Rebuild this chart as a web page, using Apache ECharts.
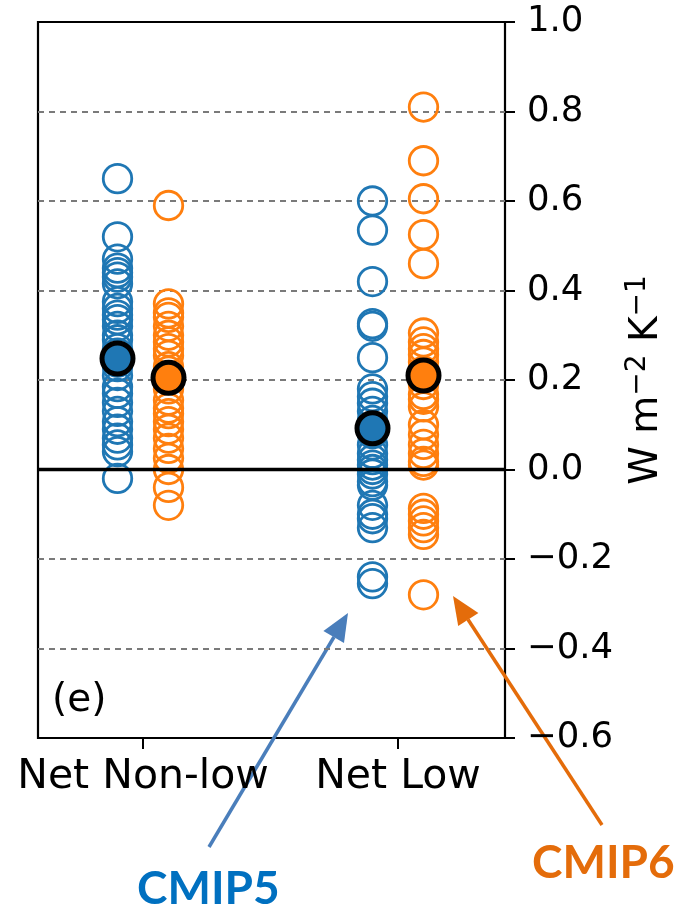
<!DOCTYPE html>
<html><head><meta charset="utf-8">
<script src="https://cdn.jsdelivr.net/npm/echarts@6/dist/echarts.min.js"></script>
<style>html,body{margin:0;padding:0;background:#fff}#c{width:678px;height:914px}</style>
</head><body><div id="c"></div>
<script>
// ---- data ----
const categories = ['Net Non-low', 'Net Low'];
const categoryPos = [1, 2];
const yTickValues = [-0.6, -0.4, -0.2, 0.0, 0.2, 0.4, 0.6, 0.8, 1.0];

const cmip5NonLow = [0.65, 0.52, 0.47, 0.45, 0.44, 0.43, 0.415, 0.375, 0.36, 0.345, 0.335, 0.32, 0.30, 0.29, 0.27, 0.26, 0.24, 0.23, 0.21, 0.185, 0.17, 0.15, 0.13, 0.107, 0.09, 0.07, 0.055, 0.04, -0.02];
const cmip5Low = [0.60, 0.535, 0.42, 0.326, 0.32, 0.25, 0.18, 0.163, 0.148, 0.13, 0.11, 0.08, 0.055, 0.036, 0.022, 0.01, 0.0, -0.01, -0.027, -0.035, -0.08, -0.10, -0.11, -0.13, -0.24, -0.255];
const cmip6NonLow = [0.59, 0.37, 0.35, 0.34, 0.32, 0.30, 0.285, 0.27, 0.255, 0.23, 0.22, 0.18, 0.155, 0.137, 0.125, 0.107, 0.09, 0.07, 0.047, 0.025, 0.0, -0.04, -0.08];
const cmip6Low = [0.81, 0.69, 0.605, 0.525, 0.46, 0.305, 0.285, 0.27, 0.257, 0.24, 0.22, 0.19, 0.168, 0.157, 0.14, 0.10, 0.078, 0.056, 0.036, 0.018, 0.01, -0.087, -0.10, -0.115, -0.13, -0.145, -0.28];
const cmip5Mean = [0.248, 0.092];
const cmip6Mean = [0.205, 0.21];

// ---- build ----
const OFF = 0.1;
const BLUE = '#1f77b4', ORANGE = '#ff7f0e';
const pts = (arr, pos) => arr.map(v => [pos, v]);
const c5 = pts(cmip5NonLow, categoryPos[0] - OFF).concat(pts(cmip5Low, categoryPos[1] - OFF));
const c6 = pts(cmip6NonLow, categoryPos[0] + OFF).concat(pts(cmip6Low, categoryPos[1] + OFF));
const m5 = cmip5Mean.map((v, i) => [categoryPos[i] - OFF, v]);
const m6 = cmip6Mean.map((v, i) => [categoryPos[i] + OFF, v]);

const FONT = 'DejaVu Sans';
const chart = echarts.init(document.getElementById('c'), null, {renderer: 'canvas'});
const hollow = (name, data, color) => ({
  name, type: 'scatter', data, symbol: 'circle', symbolSize: 28.5, z: 2,
  itemStyle: {color: 'rgba(0,0,0,0)', borderColor: color, borderWidth: 2.8, opacity: 1},
  emphasis: {disabled: true}, silent: true
});
const mean = (name, data, color) => ({
  name, type: 'scatter', data, symbol: 'circle', symbolSize: 31, z: 5,
  itemStyle: {color, borderColor: '#000', borderWidth: 5, opacity: 1},
  emphasis: {disabled: true}, silent: true
});

chart.setOption({
  animation: false,
  backgroundColor: '#fff',
  grid: {left: 38, right: 173, top: 22, bottom: 176, show: true, borderColor: '#000', borderWidth: 2.2, backgroundColor: 'rgba(0,0,0,0)'},
  xAxis: {
    type: 'value', min: categoryPos[0] - 105/255, max: categoryPos[1] + 107/255,
    axisLine: {show: false, onZero: false},
    splitLine: {show: false},
    axisTick: {show: true, customValues: categoryPos, length: 11, lineStyle: {color: '#000', width: 2}},
    axisLabel: {show: true, customValues: categoryPos, formatter: v => categories[categoryPos.indexOf(Math.round(v))] || '',
      color: '#000', fontSize: 41, fontFamily: FONT, margin: 19}
  },
  yAxis: {
    type: 'value', position: 'right', min: yTickValues[0], max: yTickValues[yTickValues.length - 1], interval: 0.2,
    axisLine: {show: false, onZero: false},
    axisTick: {show: true, inside: false, length: 10, lineStyle: {color: '#000', width: 2}},
    axisLabel: {color: '#000', fontSize: 35.5, fontFamily: FONT, margin: 22,
      formatter: v => (Math.abs(v) < 1e-9 ? '0.0' : v.toFixed(1)).replace('-', '\u2212')},
    splitLine: {show: true, showMinLine: false, showMaxLine: false, lineStyle: {color: '#7a7a7a', type: [6, 5], width: 2.2}},
    name: 'W m{sup|\u22122} K{sup|\u22121}',
    nameLocation: 'middle', nameRotate: 90, nameGap: 118,
    nameTextStyle: {color: '#000', fontSize: 39, fontFamily: FONT,
      rich: {sup: {fontSize: 28, fontFamily: FONT, color: '#000', padding: [0, 0, 17, 0]}}}
  },
  series: [
    hollow('CMIP5', c5, BLUE),
    hollow('CMIP6', c6, ORANGE),
    {type: 'scatter', data: [], z: 3, silent: true,
      markLine: {silent: true, symbol: 'none', label: {show: false}, animation: false,
        lineStyle: {color: '#000', width: 3.4, type: 'solid'}, data: [{yAxis: 0}]}},
    mean('CMIP5 mean', m5, BLUE),
    mean('CMIP6 mean', m6, ORANGE)
  ],
  graphic: [
    {type: 'text', left: 52, top: 681, style: {text: '(e)', font: '39px "DejaVu Sans"', fill: '#000'}},
    {type: 'line', shape: {x1: 209, y1: 847, x2: 334, y2: 637}, style: {stroke: '#4a7ebb', lineWidth: 3.5}},
    {type: 'polygon', shape: {points: [[348, 613], [344, 643], [323.4, 631]]}, style: {fill: '#4a7ebb'}},
    {type: 'line', shape: {x1: 602, y1: 825, x2: 468, y2: 619.5}, style: {stroke: '#e46c0a', lineWidth: 3.5}},
    {type: 'polygon', shape: {points: [[453, 596], [478.4, 613], [458.2, 626]]}, style: {fill: '#e46c0a'}},
    {type: 'text', left: 137, top: 866, style: {text: 'CMIP5', font: 'bold 46px Lato', fill: '#0070c0'}},
    {type: 'text', left: 532, top: 840, style: {text: 'CMIP6', font: 'bold 46px Lato', fill: '#e46c0a'}}
  ]
});
</script>
</body></html>
